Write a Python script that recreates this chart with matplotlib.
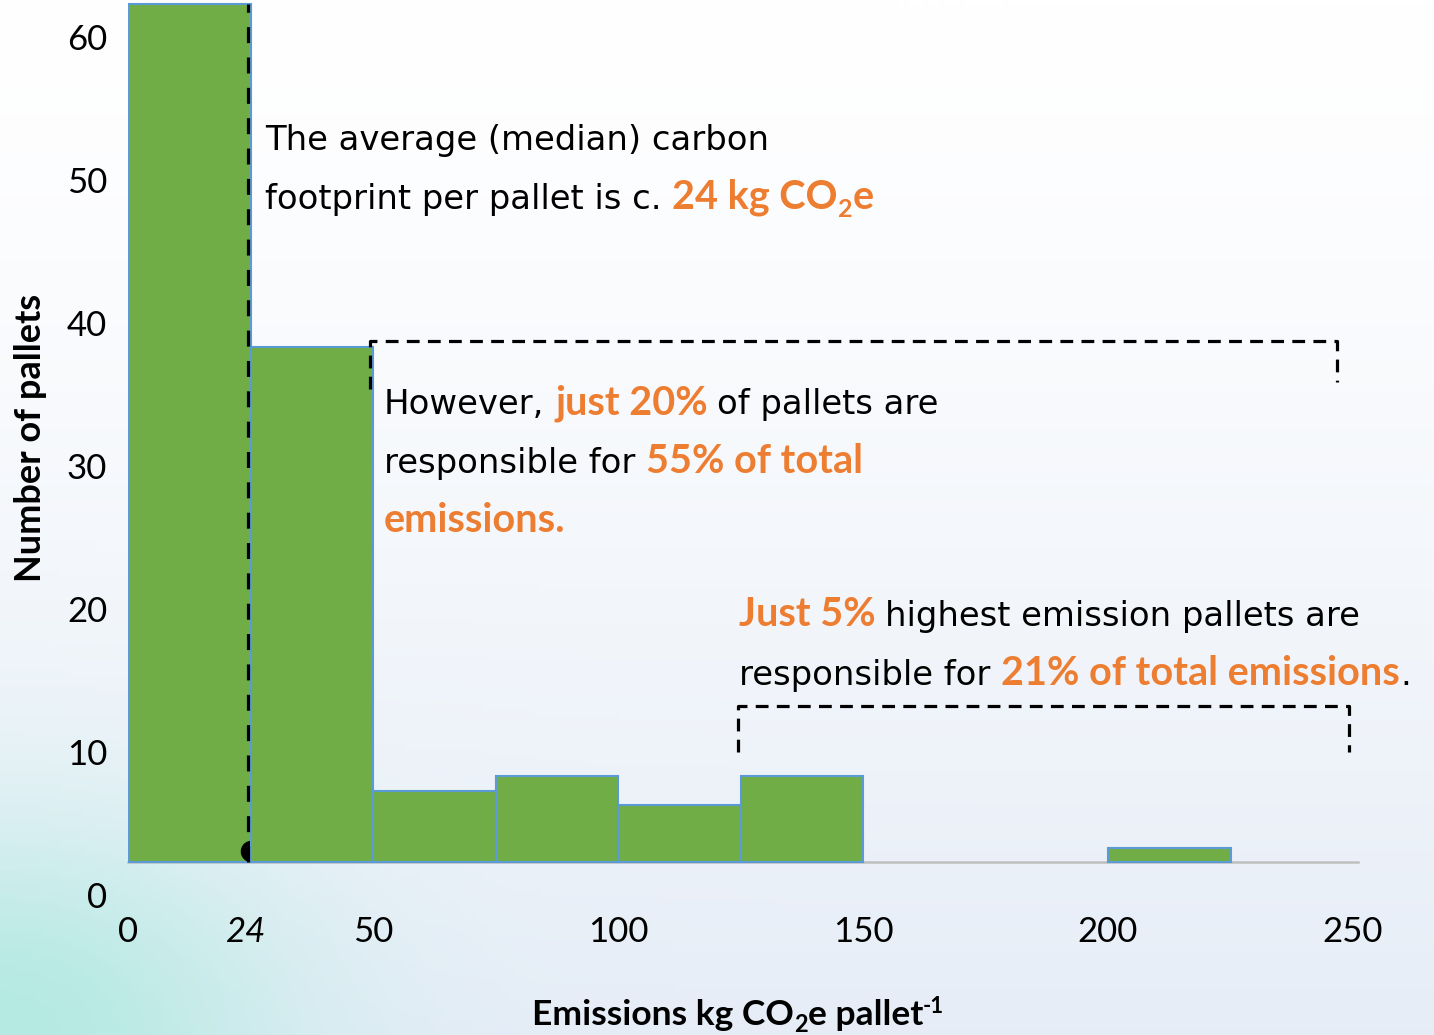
import numpy as np
import matplotlib.pyplot as plt

# Données
bornes_gauche = [0, 25, 50, 75, 100, 125, 150, 175, 200, 225]
nb_palettes = [60, 36, 5, 6, 4, 6, 0, 0, 1, 0]
largeur_classe = 25
mediane = 24.5
xticks_val = [0, 24, 50, 100, 150, 200, 250]
xticks_txt = ["0", "24", "50", "100", "150", "200", "250"]
yticks_val = [0, 10, 20, 30, 40, 50, 60]

# crochets en pointillés (x gauche, x droite, y haut, y bas gauche, y bas droite)
crochet_20 = (49.4, 246.7, 36.4, 33.1, 33.6)
crochet_5 = (124.5, 249.2, 10.9, 7.7, 7.7)

W, H = 1434, 1035
VERT = "#70AD47"
BORD = "#5B9BD5"
ORANGE = "#ED7D31"
POLICE = "Lato"
POLICE_NOTE = "DejaVu Sans"

fig = plt.figure(figsize=(W / 100, H / 100), dpi=100)

# fond en dégradé (blanc en haut, bleu clair en bas, turquoise dans le coin)
yy, xx = np.mgrid[0:1:207j, 0:1:287j]
t = (yy ** 1.3)[..., None]
haut = np.array([255, 255, 255]) / 255
bas = np.array([230, 237, 247]) / 255
img = haut * (1 - t) + bas * t
w = np.exp(-((xx / 0.2) ** 2 + ((1 - yy) / 0.2) ** 2))[..., None]
cyan = np.array([180, 234, 226]) / 255
img = img * (1 - w) + cyan * w
fond = fig.add_axes([0, 0, 1, 1], zorder=-1)
fond.imshow(img, aspect="auto", extent=[0, 1, 0, 1])
fond.axis("off")

# axe principal : 0 à 862 px du haut, 14.3 px par palette, 4.9 px par kg
px_unite = 14.3
px_kg = 4.9
y_bas, y_haut = -2.6, 60.3
bas_px = 862 + (-y_bas) * px_unite
haut_px = 862 - y_haut * px_unite
ax = fig.add_axes([128 / W, 1 - bas_px / H, 250 * px_kg / W, (bas_px - haut_px) / H])
ax.set_facecolor("none")
ax.set_xlim(0, 250)
ax.set_ylim(y_bas, y_haut)
for s in ax.spines.values():
    s.set_visible(False)

ax.plot([0, 251], [0, 0], color="#BFBFBF", lw=1.8, zorder=1.5, clip_on=False)

barres = ax.bar(bornes_gauche, nb_palettes, width=largeur_classe, align="edge",
                color=VERT, edgecolor=BORD, linewidth=1.5)
for i, b in enumerate(barres):
    if nb_palettes[i] == 0:
        b.set_visible(False)
    b.set_zorder(2 if i == 0 else 3)

# médiane
ax.plot([25], [0.8], "o", ms=14.5, color="black", zorder=2.5, clip_on=False)
ax.plot([mediane, mediane], [0, nb_palettes[0]], color="black", lw=2.3,
        dashes=(5, 4.5), zorder=4, clip_on=False)

for (xg, xd, yh, ybg, ybd) in [crochet_20, crochet_5]:
    ax.plot([xg, xg, xd, xd], [ybg, yh, yh, ybd], color="black", lw=2.3,
            dashes=(4, 2.6), zorder=4, clip_on=False)

ax.set_xticks(xticks_val, xticks_txt)
ax.get_xticklabels()[1].set_style("italic")
ax.set_yticks(np.array(yticks_val) - 2.3, [str(v) for v in yticks_val])
ax.tick_params(axis="both", length=0, labelsize=25)
ax.tick_params(axis="x", pad=12)
ax.tick_params(axis="y", pad=15)
for lab in ax.get_xticklabels() + ax.get_yticklabels():
    lab.set_family(POLICE)

fig.text(31 / W, 1 - 438 / H, "Number of pallets", rotation=90, ha="center",
         va="center", fontsize=26, fontweight="bold", family=POLICE)

rendu = fig.canvas.get_renderer()


def largeur(texte, **kw):
    tt = fig.text(0, 0, texte, **kw)
    lg = tt.get_window_extent(rendu).width
    tt.remove()
    return lg


def ecrire(x_px, y_px, morceaux, police_normale=POLICE_NOTE, centre=False):
    """Écrit une ligne de morceaux (texte, couleur, gras, taille, décalage y)."""
    x = x_px
    objets = []
    for texte, couleur, gras, taille, dy in morceaux:
        kw = dict(fontsize=taille, fontweight="bold" if gras else "normal",
                  family=POLICE if gras else police_normale)
        propre = texte.rstrip(" ")
        n_esp = len(texte) - len(propre)
        tt = fig.text(x / W, 1 - (y_px + dy) / H, propre, color=couleur,
                      va="baseline", ha="left", **kw)
        objets.append(tt)
        x = tt.get_window_extent(rendu).x1
        if n_esp:
            esp = largeur("a a", **kw) - largeur("aa", **kw)
            x += n_esp * esp
    if centre:
        decal = (x - x_px) / 2
        for tt in objets:
            tt.set_x(tt.get_position()[0] - decal / W)


N, O = "black", ORANGE
tn, tb, ts = 24.4, 28.5, 18
ecrire(265, 150, [("The average (median) carbon", N, False, tn, 0)])
ecrire(265, 209, [("footprint per pallet is c. ", N, False, tn, 0),
                  ("24 kg CO", O, True, tb, 0), ("2", O, True, ts, 8),
                  ("e", O, True, tb, 0)])
ecrire(384, 414, [("However, ", N, False, tn, 0), ("just 20% ", O, True, tb, 0),
                  ("of pallets are", N, False, tn, 0)])
ecrire(384, 473, [("responsible for ", N, False, tn, 0),
                  ("55% of total", O, True, tb, 0)])
ecrire(384, 532, [("emissions.", O, True, tb, 0)])
ecrire(739, 626, [("Just 5% ", O, True, tb, 0),
                  ("highest emission pallets are", N, False, tn, 0)])
ecrire(739, 685, [("responsible for ", N, False, tn, 0),
                  ("21% of total emissions", O, True, tb, 0), (".", N, False, tn, 0)])

# titre de l'axe x, avec indice et exposant
ecrire(738, 1025, [("Emissions kg CO", N, True, 25.5, 0), ("2", N, True, 17, 7),
                   ("e pallet", N, True, 25.5, 0), ("-1", N, True, 16, -12)],
       centre=True)

fig.savefig("out.png", dpi=100)
